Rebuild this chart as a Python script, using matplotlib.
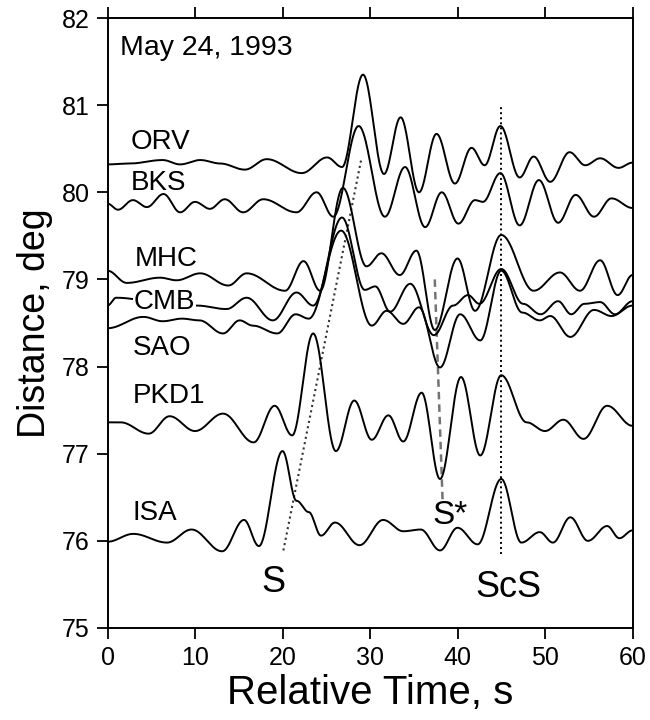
import numpy as np
import matplotlib
matplotlib.use("Agg")
import matplotlib.pyplot as plt

plt.rcParams['font.family'] = ['Liberation Sans', 'DejaVu Sans']

# picked extrema of each trace (time s, distance deg)
orv_t = [0, 2.5, 6.3, 8.3, 10.6, 12.9, 15.7, 18.2, 22.2, 25.1, 26.8, 29.2, 31.6, 33.5, 35.6, 37.6,
         39.7, 41.6, 43.1, 44.9, 47.1, 48.7, 50.6, 52.8, 54.6, 56.3, 58.4, 60]
orv_y = [80.32, 80.33, 80.37, 80.32, 80.37, 80.33, 80.26, 80.38, 80.22, 80.40, 80.29, 81.35, 80.21, 80.86,
         80.00, 80.67, 80.10, 80.51, 80.31, 80.76, 80.17, 80.41, 80.12, 80.46, 80.31, 80.39, 80.28, 80.34]

bks_t = [0, 1.2, 2.9, 4.5, 6.4, 8.3, 10.0, 11.7, 13.4, 15.5, 17.8, 21.6, 23.9, 25.8, 28.7, 31.7, 34.0,
         36.3, 38.2, 40.1, 42.0, 42.9, 44.9, 47.1, 49.3, 51.5, 53.5, 55.6, 57.6, 60]
bks_y = [79.87, 79.80, 79.91, 79.83, 79.98, 79.77, 79.89, 79.81, 79.92, 79.77, 79.92, 79.77, 80.00, 79.72,
         80.76, 79.72, 80.29, 79.60, 80.00, 79.64, 79.91, 79.89, 80.22, 79.62, 80.14, 79.65, 79.97, 79.72,
         79.93, 79.82]

mhc_t = [0, 2.2, 6.0, 7.9, 10.6, 13.8, 15.9, 20.3, 22.4, 24.3, 26.9, 29.6, 31.3, 33.4, 35.3, 37.4, 40.0,
         42.0, 45.0, 48.7, 51.7, 54.0, 56.3, 58.3, 60]
mhc_y = [79.10, 78.96, 79.02, 78.99, 79.07, 78.93, 79.07, 78.87, 79.21, 78.87, 80.05, 79.15, 79.30, 79.05,
         79.33, 78.42, 79.24, 78.64, 79.51, 78.87, 79.08, 78.87, 79.22, 78.82, 79.05]

cmb_t = [0, 1.0, 5.5, 10.2, 13.6, 15.9, 18.9, 21.6, 23.5, 26.8, 29.4, 30.6, 32.3, 34.6, 37.3, 39.5, 41.2,
         42.5, 45.0, 47.5, 49.5, 51.5, 53.0, 54.5, 56.3, 58.0, 60]
cmb_y = [78.70, 78.79, 78.75, 78.70, 78.66, 78.79, 78.53, 78.85, 78.70, 79.71, 78.88, 78.92, 78.63, 78.95,
         78.36, 78.70, 78.82, 78.72, 79.12, 78.72, 78.60, 78.75, 78.60, 78.72, 78.74, 78.60, 78.75]

sao_t = [0, 4.1, 6.3, 8.5, 10.5, 13.2, 15.1, 16.6, 19.4, 21.5, 23.0, 26.7, 30.2, 31.9, 33.8, 35.6, 38.0,
         40.3, 42.6, 45.0, 47.4, 49.4, 50.6, 52.9, 55.6, 57.6, 60]
sao_y = [78.44, 78.57, 78.52, 78.55, 78.53, 78.38, 78.53, 78.47, 78.38, 78.60, 78.55, 79.56, 78.47, 78.64,
         78.49, 78.68, 77.99, 78.60, 78.30, 79.10, 78.62, 78.53, 78.58, 78.34, 78.65, 78.58, 78.70]

pkd_t = [0, 1.5, 4.7, 7.1, 10.0, 13.2, 16.7, 19.1, 21.1, 23.5, 26.1, 28.2, 30.2, 32.1, 33.8, 35.9, 38.0,
         40.4, 42.6, 45.0, 47.9, 50.0, 52.1, 54.4, 57.1, 60]
pkd_y = [77.36, 77.36, 77.23, 77.43, 77.26, 77.46, 77.13, 77.55, 77.21, 78.38, 77.03, 77.61, 77.16, 77.44,
         77.14, 77.70, 76.71, 77.88, 76.98, 77.90, 77.36, 77.26, 77.39, 77.17, 77.55, 77.32]

isa_t = [0, 2.95, 6.8, 9.6, 13.1, 15.6, 17.3, 20.0, 21.6, 23.0, 24.4, 26.0, 28.8, 31.5, 33.8, 35.8, 38.0,
         40.0, 42.3, 45.0, 47.3, 49.4, 50.9, 52.9, 54.9, 57.1, 58.5, 60]
isa_y = [75.99, 76.08, 75.98, 76.13, 75.88, 76.24, 75.94, 77.03, 76.46, 76.33, 76.06, 76.21, 75.95, 76.24,
         76.11, 76.13, 75.89, 76.15, 75.96, 76.71, 75.98, 76.10, 75.98, 76.27, 76.00, 76.17, 76.03, 76.12]

stations = ['ORV', 'BKS', 'MHC', 'CMB', 'SAO', 'PKD1', 'ISA']
label_t = [2.65, 2.65, 3.1, 3.0, 2.9, 2.9, 2.8]
label_y = [80.58, 80.11, 79.24, 78.74, 78.21, 77.66, 76.32]

# phase picks
s_line_t = [20.1, 29.0]
s_line_y = [75.89, 80.38]
scs_line_t = [45.0, 45.0]
scs_line_y = [75.85, 81.0]
sstar_line_t = [37.4, 38.3]
sstar_line_y = [79.0, 76.45]


def smooth(t, y, n=40):
    # cosine easing between picked extrema
    xs, ys = [], []
    for i in range(len(t) - 1):
        s = np.linspace(0, 1, n, endpoint=False)
        w = (1 - np.cos(np.pi * s)) / 2
        xs.append(t[i] + (t[i + 1] - t[i]) * s)
        ys.append(y[i] + (y[i + 1] - y[i]) * w)
    xs.append([t[-1]])
    ys.append([y[-1]])
    return np.concatenate(xs), np.concatenate(ys)


fig = plt.figure(figsize=(6.5, 7.2), dpi=100)
ax = fig.add_axes([0.1654, 0.1278, 0.8077, 0.8472])

traces = [(orv_t, orv_y), (bks_t, bks_y), (mhc_t, mhc_y), (cmb_t, cmb_y),
          (sao_t, sao_y), (pkd_t, pkd_y), (isa_t, isa_y)]
for t, y in traces:
    xx, yy = smooth(t, y)
    ax.plot(xx, yy, color='black', lw=1.4, zorder=3)

ax.plot(s_line_t, s_line_y, color='0.2', lw=1.5, ls=(0, (1, 1.6)), zorder=2)
ax.plot(scs_line_t, scs_line_y, color='black', lw=1.4, ls=(0, (1, 1.6)), zorder=2)
ax.plot(sstar_line_t, sstar_line_y, color='0.45', lw=1.8, ls=(0, (3, 2)), zorder=2)

for name, lt, ly in zip(stations, label_t, label_y):
    kw = {}
    if name == 'CMB':
        kw['bbox'] = dict(facecolor='white', edgecolor='none', pad=0.5)
    ax.text(lt, ly, name, fontsize=20, va='center', ha='left', zorder=4, **kw)

ax.text(1.4, 81.66, 'May 24, 1993', fontsize=20.5, va='center', ha='left')
ax.text(19.0, 75.52, 'S', fontsize=26, va='center', ha='center')
ax.text(45.8, 75.46, 'ScS', fontsize=26, va='center', ha='center')
ax.text(39.1, 76.29, 'S*', fontsize=24, va='center', ha='center', zorder=4)

ax.set_xlim(0, 60)
ax.set_ylim(75, 82)
ax.set_xticks(np.arange(0, 61, 10))
ax.set_yticks(np.arange(75, 83, 1))
ax.tick_params(direction='out', length=8, width=1.3, labelsize=18, pad=5,
               top=True, right=False, labeltop=False)
for sp in ax.spines.values():
    sp.set_linewidth(1.4)

ax.set_xlabel('Relative Time, s', fontsize=29, labelpad=3)
ax.set_ylabel('Distance, deg', fontsize=27, labelpad=6)

fig.savefig('out.png', dpi=100)
